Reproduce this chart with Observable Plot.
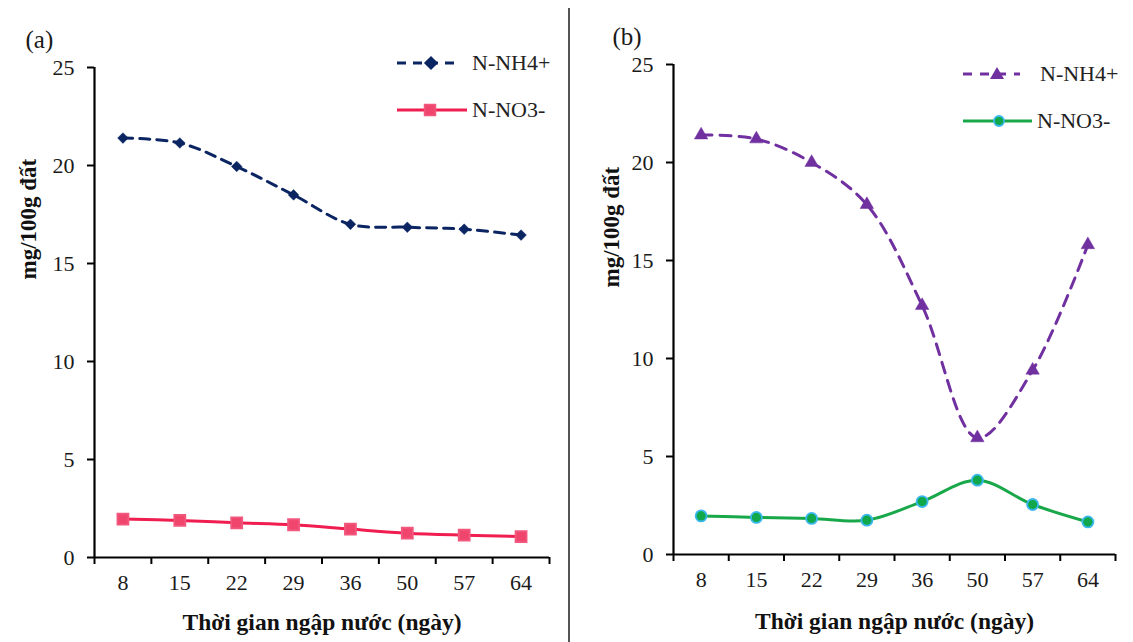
<!DOCTYPE html>
<html>
<head>
<meta charset="utf-8">
<script src="https://cdn.jsdelivr.net/npm/d3@7"></script>
<script src="https://cdn.jsdelivr.net/npm/@observablehq/plot@0.6"></script>
<style>
  body { margin: 0; background: #fff; font-family: "Liberation Serif", "Times New Roman", serif; }
  #fig { position: relative; width: 1133px; height: 642px; display: flex; }
  .panel { position: relative; }
  .divider { position: absolute; left: 568px; top: 8px; width: 1.5px; height: 634px; background: #555; }
  .legend { position: absolute; display: flex; align-items: center; font-size: 22px; color: #222; white-space: nowrap; }
  .legend svg { display: block; }
</style>
</head>
<body>
<div id="fig">
  <div class="panel" id="pa" style="width:569px"></div>
  <div class="panel" id="pb" style="width:564px"></div>
  <div class="divider"></div>
</div>
<script>
// Flooding duration (days) and nitrogen content (mg/100g soil)
const days = ["8", "15", "22", "29", "36", "50", "57", "64"];
const nh4A = [21.4, 21.15, 19.95, 18.5, 17.0, 16.85, 16.75, 16.45];
const no3A = [1.96, 1.89, 1.77, 1.67, 1.45, 1.24, 1.14, 1.07];
const nh4B = [21.4, 21.2, 20.0, 17.85, 12.7, 5.95, 9.4, 15.8];
const no3B = [1.97, 1.89, 1.84, 1.75, 2.7, 3.79, 2.55, 1.66];
const yTicks = [0, 5, 10, 15, 20, 25];
const seriesNames = ["N-NH4+", "N-NO3-"];
const xTitle = "Thời gian ngập nước (ngày)";
const yTitle = "mg/100g đất";

const rows = (vals) => vals.map((v, i) => ({x: i + 1, v}));
const boundaries = d3.range(0.5, days.length + 1, 1);
const FONT = "Liberation Serif, Times New Roman, serif";

function panel(el, o) {
  const chart = Plot.plot({
    width: o.width, height: 642,
    marginLeft: o.ml, marginRight: o.mr, marginTop: o.mt, marginBottom: o.mb,
    x: {domain: [0.5, days.length + 0.5], axis: null},
    y: {domain: [0, 25], axis: null},
    style: {fontFamily: FONT, fontSize: "22px", color: "#1a1a1a", background: "#fff", overflow: "visible"},
    marks: [
      Plot.axisY({ticks: yTicks, tickSize: 7, tickPadding: 13, strokeWidth: 2, label: null, stroke: "#000", fontSize: 22}),
      Plot.axisX({ticks: boundaries, tickSize: 7, tickFormat: () => "", strokeWidth: 2, label: null, stroke: "#000"}),
      Plot.axisX({ticks: d3.range(1, days.length + 1), tickSize: 0, tickPadding: 17, tickFormat: (i) => days[i - 1], label: null, fontSize: 22}),
      Plot.ruleX([0.5], {stroke: "#000", strokeWidth: 2.2}),
      Plot.ruleY([0], {stroke: "#000", strokeWidth: 2.2}),
      Plot.text(["(" + o.tag + ")"], {frameAnchor: "top-left", dx: o.tagDx, dy: o.tagDy, textAnchor: "start", fontSize: 25, fill: "#1a1a1a"}),
      Plot.text([yTitle], {frameAnchor: "left", rotate: -90, dx: o.ylDx, dy: o.ylDy, fontWeight: "bold", fontSize: 23, fill: "#111"}),
      Plot.text([xTitle], {frameAnchor: "bottom", dy: o.xtDy, fontWeight: "bold", fontSize: 23.5, fill: "#111"}),
      // ammonium series (dashed)
      Plot.line(rows(o.nh4), {x: "x", y: "v", curve: "catmull-rom", stroke: o.c1, strokeWidth: 3, strokeDasharray: o.dash}),
      Plot.dot(rows(o.nh4), {x: "x", y: "v", symbol: o.sym1, r: o.r1, fill: o.c1, stroke: o.c1, strokeWidth: 0.5}),
      // nitrate series (solid)
      Plot.line(rows(o.no3), {x: "x", y: "v", curve: "catmull-rom", stroke: o.c2, strokeWidth: 3}),
      Plot.dot(rows(o.no3), {x: "x", y: "v", symbol: o.sym2, r: o.r2, fill: o.f2, stroke: o.s2, strokeWidth: 1.8})
    ]
  });
  el.appendChild(chart);
  // legend entries
  o.legend.forEach((l) => {
    const div = document.createElement("div");
    div.className = "legend";
    div.style.left = l.left + "px";
    div.style.top = (l.y - 14) + "px";
    const w = l.len, h = 28, cy = 14;
    let marker = "";
    if (l.shape === "diamond") marker = `<rect x="${l.mx - 5}" y="${cy - 5}" width="10" height="10" transform="rotate(45 ${l.mx} ${cy})" fill="${l.fill}"/>`;
    if (l.shape === "square") marker = `<rect x="${l.mx - 5.5}" y="${cy - 5.5}" width="11" height="11" fill="${l.fill}" stroke="${l.mstroke}" stroke-width="1.5"/>`;
    if (l.shape === "triangle") marker = `<path d="M${l.mx},${cy - 7} L${l.mx + 7},${cy + 5} L${l.mx - 7},${cy + 5}Z" fill="${l.fill}"/>`;
    if (l.shape === "circle") marker = `<circle cx="${l.mx}" cy="${cy}" r="5" fill="${l.fill}" stroke="${l.mstroke}" stroke-width="1.8"/>`;
    div.innerHTML = `<svg width="${w}" height="${h}"><line x1="0" x2="${w}" y1="${cy}" y2="${cy}" stroke="${l.stroke}" stroke-width="3" ${l.dash ? `stroke-dasharray="${l.dash}"` : ""}/>${marker}</svg><span style="margin-left:${l.gap}px">${l.label}</span>`;
    el.appendChild(div);
  });
}

panel(document.getElementById("pa"), {
  tag: "a", width: 569, ml: 94, mr: 20, mt: 67, mb: 85,
  tagDx: -69, tagDy: -37, ylDx: -66, ylDy: -33, xtDy: 72,
  nh4: nh4A, no3: no3A,
  c1: "#0b2562", dash: "10,7", sym1: "diamond2", r1: 4.8,
  c2: "#f01e50", sym2: "square", r2: 6.2, f2: "#f0466e", s2: "#f2587e",
  legend: [
    {left: 397, y: 63, len: 63, gap: 12, shape: "diamond", mx: 34, fill: "#0b2562", stroke: "#0b2562", dash: "9,7", label: seriesNames[0]},
    {left: 397, y: 110, len: 70, gap: 5, shape: "square", mx: 33, fill: "#f0466e", mstroke: "#f2587e", stroke: "#f01e50", label: seriesNames[1]}
  ]
});

panel(document.getElementById("pb"), {
  tag: "b", width: 564, ml: 104, mr: 18, mt: 64, mb: 88,
  tagDx: -61, tagDy: -37, ylDx: -62, ylDy: -22, xtDy: 74,
  nh4: nh4B, no3: no3B,
  c1: "#7030a0", dash: "11,8", sym1: "triangle", r1: 5,
  c2: "#18a84a", sym2: "circle", r2: 5.5, f2: "#10a84a", s2: "#3ab8ee",
  legend: [
    {left: 394, y: 74, len: 57, gap: 20, shape: "triangle", mx: 34, fill: "#7030a0", stroke: "#7030a0", dash: "9,8", label: seriesNames[0]},
    {left: 394, y: 121, len: 69, gap: 5, shape: "circle", mx: 36, fill: "#10a84a", mstroke: "#3ab8ee", stroke: "#18a84a", label: seriesNames[1]}
  ]
});
</script>
</body>
</html>
